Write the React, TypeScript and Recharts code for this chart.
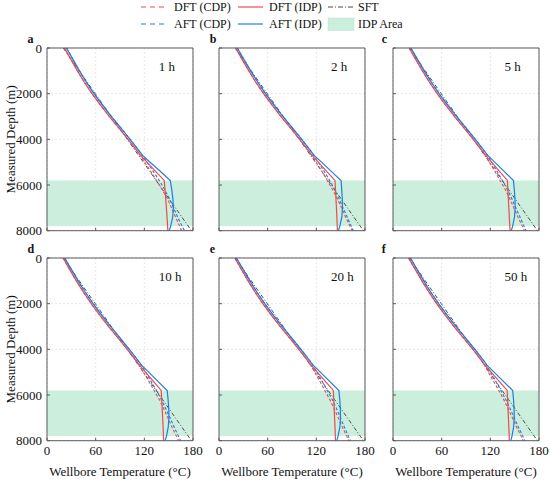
import React from 'react';
import { LineChart, Line, XAxis, YAxis, CartesianGrid, ReferenceArea } from 'recharts';

// Palette picked off the reference figure.
const C = {
  dft: '#F04A4C',
  aft: '#1F7DE3',
  sft: '#4A4A4A',
  idp: '#CBEEDD',
  axis: '#5A5A5A',
  grid: '#E6E6E6',
  text: '#111111',
};
const FONT = '"Liberation Serif", "Times New Roman", serif';

// ---- data ----
const PANEL_LETTERS = ['a', 'b', 'c', 'd', 'e', 'f'];
const TIMES = ['1 h', '2 h', '5 h', '10 h', '20 h', '50 h'];
const TEMP_TICKS = [0, 60, 120, 180];
const DEPTH_TICKS = [0, 2000, 4000, 6000, 8000];
const IDP_ZONE = [5800, 7800];

const DEPTHS = [0, 500, 1000, 1500, 2000, 2500, 3000, 3500, 4000, 4500, 4700,
  5000, 5400, 5800, 6200, 6600, 7000, 7400, 7800, 8000];

const SFT = [20, 30, 39.8, 49.6, 59.5, 69.4, 79.3, 89.1, 99, 108.9, 112.8,
  118.8, 126.7, 134.6, 142.5, 150.4, 158.3, 166.2, 174.1, 178];

// one row per panel (1 h, 2 h, 5 h, 10 h, 20 h, 50 h)
const DFT_CDP = [
  [21.5, 29.5, 37.5, 46, 55.5, 66, 77, 88.5, 100, 111, 114.8, 120.5, 127.8, 135, 142, 148.5, 153.5, 158.5, 163.5, 166],
  [20.5, 28.5, 36.8, 45.4, 55, 65.5, 76.5, 88, 99.5, 110.5, 114.3, 119.8, 126.8, 133.5, 140, 146, 151, 156, 161.5, 164.5],
  [20, 28, 36.3, 45, 54.5, 65, 76, 87.5, 99, 110, 113.8, 118.9, 125.6, 132, 138.5, 144, 149, 154, 159.5, 162],
  [19.8, 27.9, 36.2, 45, 54.5, 65, 76, 87.5, 99, 110, 113.8, 118.9, 125.5, 132, 138.5, 144, 149, 154, 159.5, 162.3],
  [19.5, 27.6, 35.9, 44.6, 54, 64.5, 75.5, 87, 98.5, 109.5, 113.3, 118, 124.3, 130.5, 136.5, 142, 147, 152, 157.5, 160],
  [19.2, 27.4, 35.7, 44.4, 53.8, 64.3, 75.3, 86.8, 98.5, 109.5, 113, 117.6, 124, 130.5, 136.5, 142, 147.2, 152.3, 158, 160.4],
];
const DFT_IDP = [
  [21.5, 29.5, 37.5, 46, 55.5, 66, 77, 88.5, 100, 111, 115.3, 123.3, 133.9, 144.5, 145.5, 146.4, 147.2, 148, 148.7, 149],
  [20.5, 28.5, 36.8, 45.4, 55, 65.5, 76.5, 88, 99.5, 110.5, 114.8, 122.5, 132.7, 143, 143.6, 144.2, 144.8, 145.3, 145.8, 146],
  [20, 28, 36.3, 45, 54.5, 65, 76, 87.5, 99, 110, 114.3, 121.6, 131.3, 141, 141.6, 142.2, 142.8, 143.4, 144, 144.4],
  [19.8, 27.9, 36.2, 45, 54.5, 65, 76, 87.5, 99, 110, 114.3, 121.5, 131.2, 140.8, 141.4, 142, 142.6, 143.1, 143.6, 143.9],
  [19.5, 27.6, 35.9, 44.6, 54, 64.5, 75.5, 87, 98.5, 109.5, 113.8, 121.2, 131.1, 141, 141.5, 142, 142.5, 143, 143.4, 143.6],
  [19.2, 27.4, 35.7, 44.4, 53.8, 64.3, 75.3, 86.8, 98.5, 109.5, 113.5, 121, 130.9, 140.8, 141.3, 141.8, 142.3, 142.8, 143.2, 143.4],
];
const AFT_CDP = [
  [24, 32, 40, 48.5, 58, 68.5, 79.5, 91, 102.5, 113.5, 117.2, 123.3, 131, 138.5, 145, 151, 156, 161, 166.5, 169.5],
  [22.5, 30.7, 39, 47.8, 57.4, 67.9, 79, 90.5, 102, 113, 116.7, 122.4, 129.6, 136.5, 142.5, 148, 153, 158, 163, 165.7],
  [22, 30.2, 38.5, 47.3, 56.9, 67.4, 78.5, 90, 101.5, 112.5, 116.2, 121.6, 128.3, 135, 141, 146.5, 151.5, 156.5, 161.5, 164],
  [21.8, 30, 38.4, 47.2, 56.9, 67.4, 78.5, 90, 101.5, 112.5, 116.2, 121.6, 128.3, 135, 141, 146.5, 151.7, 156.8, 162, 164.8],
  [21.5, 29.7, 38, 46.8, 56.4, 66.9, 78, 89.5, 101, 112, 115.7, 120.8, 127.2, 133.5, 139.5, 145, 149.8, 154.5, 159.5, 162],
  [21.5, 29.6, 37.9, 46.6, 56.2, 66.7, 77.8, 89.3, 101, 112, 115.4, 120.4, 126.7, 133, 139, 144.5, 149.5, 154.5, 160, 162.4],
];
const AFT_IDP = [
  [24, 32, 40, 48.5, 58, 68.5, 79.5, 91, 102.5, 113.5, 117.8, 127.1, 139.6, 152, 153.8, 155.2, 155.8, 155, 152.5, 150.5],
  [22.5, 30.7, 39, 47.8, 57.4, 67.9, 79, 90.5, 102, 113, 117.3, 126.4, 138.4, 150.5, 151.3, 152, 152.2, 151.5, 149, 147.3],
  [22, 30.2, 38.5, 47.3, 56.9, 67.4, 78.5, 90, 101.5, 112.5, 116.8, 125.4, 137, 148.5, 149.6, 150.4, 150.6, 149.8, 147.5, 145.8],
  [21.8, 30, 38.4, 47.2, 56.9, 67.4, 78.5, 90, 101.5, 112.5, 116.8, 125.4, 136.8, 148.2, 149.3, 150.1, 150.3, 149.5, 147.3, 145.6],
  [21.5, 29.7, 38, 46.8, 56.4, 66.9, 78, 89.5, 101, 112, 116.3, 124.9, 136.4, 147.8, 148.9, 149.6, 149.8, 149, 146.8, 145.2],
  [21.5, 29.6, 37.9, 46.6, 56.2, 66.7, 77.8, 89.3, 101, 112, 116, 124.6, 136.1, 147.6, 148.6, 149.3, 149.5, 148.7, 146.7, 145.3],
];

// drawing order: SFT underneath, solids on top
const SERIES = [
  { key: 'sft', name: 'SFT', color: C.sft, dash: '4 2 1 2', width: 1 },
  { key: 'dftCdp', name: 'DFT (CDP)', color: C.dft, dash: '3 2', width: 1.1 },
  { key: 'aftCdp', name: 'AFT (CDP)', color: C.aft, dash: '3 2', width: 1.1 },
  { key: 'dftIdp', name: 'DFT (IDP)', color: C.dft, dash: undefined, width: 1.2 },
  { key: 'aftIdp', name: 'AFT (IDP)', color: C.aft, dash: undefined, width: 1.2 },
];
const LEGEND_ORDER = [['dftCdp', 'dftIdp', 'sft'], ['aftCdp', 'aftIdp', 'idp']];

// ---- layout ----
const PLOT_W = 146;
const PLOT_H = 182.7;
const COL_LEFT = [46.7, 219, 392.5];
const ROW_TOP = [48.3, 258.3];
const LETTER_X = [27.4, 209.8, 381.8];
const LEG_LINE_X = [141, 238, 328];
const LEG_TEXT_X = [174, 269, 358];
const LEG_ROW_Y = [7, 24];

const M = { top: 10, right: 12, bottom: 8, left: 5 };
const Y_W = 40;
const X_H = 34;
const CHART_W = M.left + Y_W + PLOT_W + 1 + M.right;
const CHART_H = M.top + 1 + PLOT_H + X_H + M.bottom;

const noTick = () => <g />;
const tickStyle = { fontSize: 13, fill: C.text, fontFamily: FONT };

function Panel({ idx }: { idx: number }) {
  const col = idx % 3;
  const row = Math.floor(idx / 3);
  const showY = col === 0;
  const showX = row === 1;
  const rows = DEPTHS.map((depth, i) => ({
    depth,
    sft: SFT[i],
    dftCdp: DFT_CDP[idx][i],
    dftIdp: DFT_IDP[idx][i],
    aftCdp: AFT_CDP[idx][i],
    aftIdp: AFT_IDP[idx][i],
  }));

  return (
    <div style={{ position: 'absolute', left: COL_LEFT[col] - M.left - Y_W, top: ROW_TOP[row] - M.top - 1 }}>
      <LineChart layout="vertical" width={CHART_W} height={CHART_H} data={rows} margin={M}>
        <CartesianGrid stroke={C.grid} strokeDasharray="2 2" />
        <ReferenceArea x1={0} x2={180} y1={IDP_ZONE[0]} y2={IDP_ZONE[1]}
          fill={C.idp} fillOpacity={1} stroke="none" />
        <XAxis type="number" domain={[0, 180]} ticks={TEMP_TICKS} interval={0} height={X_H}
          tickSize={-3} tickMargin={8} stroke={C.axis}
          tick={showX ? tickStyle : noTick}
          label={showX ? {
            value: 'Wellbore Temperature (°C)', position: 'insideBottom', offset: -1,
            style: { fontSize: 13, fill: C.text, fontFamily: FONT },
          } : undefined} />
        <XAxis xAxisId="top" orientation="top" type="number" domain={[0, 180]} height={1}
          tick={false} tickLine={false} stroke={C.axis} />
        {/* vertical layout already runs depth top -> bottom */}
        <YAxis type="number" dataKey="depth" domain={[0, 8000]} ticks={DEPTH_TICKS}
          interval={0} width={Y_W} tickSize={-3} tickMargin={8} stroke={C.axis}
          tick={showY ? tickStyle : noTick}
          label={showY ? {
            value: 'Measured Depth (m)', angle: -90, position: 'insideLeft', offset: 3,
            style: { fontSize: 13, fill: C.text, fontFamily: FONT, textAnchor: 'middle' },
          } : undefined} />
        <YAxis yAxisId="right" orientation="right" type="number" domain={[0, 8000]}
          width={1} tick={false} tickLine={false} stroke={C.axis} />
        {SERIES.map((s) => (
          <Line key={s.key} dataKey={s.key} name={s.name} stroke={s.color} strokeWidth={s.width}
            strokeDasharray={s.dash} dot={false} activeDot={false} type="linear"
            isAnimationActive={false} />
        ))}
      </LineChart>
    </div>
  );
}

function Overlay() {
  return (
    <svg width={550} height={482} style={{ position: 'absolute', left: 0, top: 0 }}
      fontFamily={FONT}>
      {LEGEND_ORDER.map((keys, r) =>
        keys.map((k, c) => {
          const cy = LEG_ROW_Y[r];
          const x0 = LEG_LINE_X[c];
          const s = SERIES.find((d) => d.key === k);
          return (
            <g key={k}>
              {s ? (
                <line x1={x0} x2={x0 + 25} y1={cy} y2={cy} stroke={s.color}
                  strokeWidth={1.2} strokeDasharray={s.dash ? (k === 'sft' ? '5 2 1 2' : '5 4') : undefined} />
              ) : (
                <rect x={x0} y={cy - 6} width={26} height={12.5} fill={C.idp} stroke="#B8E3CE" strokeWidth={0.5} />
              )}
              <text x={LEG_TEXT_X[c]} y={cy + 4} fontSize={12} fill={C.text}>
                {s ? s.name : 'IDP Area'}
              </text>
            </g>
          );
        })
      )}
      {PANEL_LETTERS.map((l, i) => (
        <text key={l} x={LETTER_X[i % 3]} y={ROW_TOP[Math.floor(i / 3)] - 5.5}
          fontSize={12} fontWeight="bold" fill={C.text}>{l}</text>
      ))}
    </svg>
  );
}

function TimeLabels() {
  return (
    <svg width={550} height={482} style={{ position: 'absolute', left: 0, top: 0, pointerEvents: 'none' }}
      fontFamily={FONT}>
      {TIMES.map((t, i) => (
        <text key={t} x={COL_LEFT[i % 3] + 112} y={ROW_TOP[Math.floor(i / 3)] + 23}
          fontSize={13} fill={C.text}>{t}</text>
      ))}
    </svg>
  );
}

export default function App() {
  return (
    <div style={{ position: 'fixed', left: 0, top: 0, width: 550, height: 482, background: '#fff', overflow: 'hidden' }}>
      <Overlay />
      {PANEL_LETTERS.map((l, i) => <Panel key={l} idx={i} />)}
      <TimeLabels />
    </div>
  );
}
